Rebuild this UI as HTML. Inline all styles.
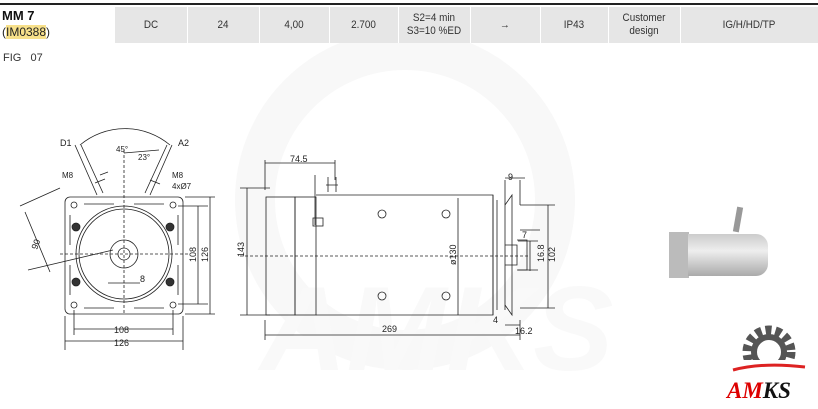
<!DOCTYPE html>
<html><head><meta charset="utf-8"><style>
body{margin:0;width:818px;height:409px;background:#fff;font-family:"Liberation Sans",Arial,sans-serif;position:relative;overflow:hidden}
.top{position:absolute;left:0;top:3px;width:818px;height:2px;background:#222}
.row{position:absolute;left:115px;top:7px;width:703px;height:36px;background:#e6e6e6}
.c{position:absolute;top:7px;height:36px;display:flex;align-items:center;justify-content:center;text-align:center;font-size:11px;color:#333;line-height:13px;transform:scaleX(.9)}
.d{position:absolute;top:7px;height:36px;width:1px;background:#fff}
</style></head><body>
<svg style="position:absolute;left:0;top:0" width="818" height="409">
<circle cx="405" cy="200" r="150" fill="none" stroke="#f8f8f8" stroke-width="40"/>
<text x="260" y="370" font-size="120" font-weight="bold" font-style="italic" fill="#f9f9f9">AMKS</text>
</svg>
<div class="top"></div>
<div class="row"></div>
<div style="position:absolute;left:2px;top:8px;font-size:13px;font-weight:bold;color:#111">MM 7</div>
<div style="position:absolute;left:2px;top:25px;font-size:12px;color:#222">(<span style="background:#f7e08a">IM0388</span>)</div>
<div style="position:absolute;left:3px;top:52px;font-size:11px;color:#333">FIG&nbsp;&nbsp;&nbsp;07</div>
<div class="d" style="left:187px"></div><div class="d" style="left:259px"></div><div class="d" style="left:329px"></div><div class="d" style="left:398px"></div><div class="d" style="left:470px"></div><div class="d" style="left:540px"></div><div class="d" style="left:608px"></div><div class="d" style="left:680px"></div>
<div class="c" style="left:115px;width:72px">DC</div>
<div class="c" style="left:187px;width:72px">24</div>
<div class="c" style="left:259px;width:70px">4,00</div>
<div class="c" style="left:329px;width:69px">2.700</div>
<div class="c" style="left:398px;width:72px">S2=4 min<br>S3=10 %ED</div>
<div class="c" style="left:470px;width:70px">→</div>
<div class="c" style="left:540px;width:68px">IP43</div>
<div class="c" style="left:608px;width:72px">Customer<br>design</div>
<div class="c" style="left:680px;width:138px">IG/H/HD/TP</div>

<svg style="position:absolute;left:0;top:0" width="818" height="409" font-family="Liberation Sans" font-size="9" fill="none" stroke="#222" stroke-width="0.8">
<rect x="65" y="197" width="118" height="117" rx="5"/>
<circle cx="124" cy="254" r="48"/>
<circle cx="124" cy="254" r="45"/>
<circle cx="124" cy="254" r="14"/>
<circle cx="124" cy="254" r="6"/>
<circle cx="74" cy="205" r="3"/><circle cx="173" cy="205" r="3"/><circle cx="74" cy="305" r="3"/><circle cx="173" cy="305" r="3"/>
<circle cx="76" cy="227" r="4" fill="#333"/><circle cx="170" cy="227" r="4" fill="#333"/><circle cx="76" cy="282" r="4" fill="#333"/><circle cx="170" cy="282" r="4" fill="#333"/>
<path d="M84 204h30M134 204h30M84 308h30M134 308h30M70 215v30M178 215v30M70 265v30M178 265v30"/>
<path d="M124 150v165M60 254h130" stroke-dasharray="3 2"/>
<path d="M97 195l-22-50M103 193l-22-48M150 195l22-50M145 193l22-48"/>
<path d="M95 183l10-4M150 180l10 4M100 175l8-3"/>
<path d="M80 145a70 70 0 0 1 90 0"/>
<path d="M124 153l35 -3"/>
<path d="M20 206l40-18M25 212l25 60M28 270l85-20"/>
<path d="M65 316v34M183 316v34M74 310v25M173 310v25M74 329h99M65 341h118"/>
<path d="M178 206h30M178 304h30M198 206v98M210 197v117M185 197h30M185 314h30"/>
<path d="M108 283h32"/>
<g fill="#222" stroke="none">
<text x="60" y="146">D1</text><text x="178" y="146">A2</text><text x="116" y="152" font-size="8">45°</text><text x="138" y="160" font-size="8">23°</text>
<text x="62" y="178" font-size="8">M8</text><text x="172" y="178" font-size="8">M8</text><text x="172" y="189" font-size="8">4xØ7</text>
<text x="140" y="282">8</text><text x="114" y="333">108</text><text x="114" y="346">126</text>
<text transform="translate(196 262) rotate(-90)">108</text><text transform="translate(208 262) rotate(-90)">126</text>
<text transform="translate(37 250) rotate(-70)">90</text>
</g>
<rect x="266" y="197" width="29" height="118"/>
<rect x="295" y="197" width="21" height="118"/>
<path d="M316 195h177v120H316"/>
<path d="M493 195v120M497 200v110M505 205v105"/>
<path d="M505 205l7-10v120l-7-10M512 195v120"/>
<path d="M505 245h12v20h-12M517 240h10v30h-10"/>
<path d="M240 256h290" stroke-dasharray="3 2"/>
<circle cx="382" cy="214" r="4"/><circle cx="446" cy="214" r="4"/><circle cx="382" cy="296" r="4"/><circle cx="446" cy="296" r="4"/>
<path d="M328 192v-15M336 192v-15M326 185h12M315 175v50"/>
<rect x="313" y="218" width="10" height="8"/>
<path d="M265 160v30M335 160v20M265 163h70M240 188h30M240 315h30M247 188v127M458 198v117M505 180v25M520 180v25M505 178h20M520 205h35M520 308h35M548 205v103M518 241h20M518 270h20M530 241v30M520 230h20M265 320v20M265 335h255M505 325h15M520 320v20"/>
<g fill="#222" stroke="none">
<text x="290" y="162">74.5</text><text x="508" y="180">9</text><text x="522" y="238">7</text>
<text transform="translate(244 257) rotate(-90)">143</text><text transform="translate(456 265) rotate(-90)">ø130</text>
<text transform="translate(544 262) rotate(-90)">16.8</text><text transform="translate(555 262) rotate(-90)">102</text>
<text x="382" y="332">269</text><text x="493" y="323">4</text><text x="515" y="334">16.2</text>
</g>
</svg>
<div style="position:absolute;left:669px;top:232px;width:20px;height:46px;background:#bbb"></div>
<div style="position:absolute;left:688px;top:234px;width:80px;height:42px;background:linear-gradient(#ccc,#eee 40%,#aaa);border-radius:0 12px 12px 0"></div>
<div style="position:absolute;left:735px;top:207px;width:6px;height:25px;background:#999;transform:rotate(10deg)"></div>
<svg style="position:absolute;left:725px;top:320px" width="88" height="89">
<circle cx="44" cy="32" r="22" fill="none" stroke="#555" stroke-width="9" stroke-dasharray="6 4"/>
<circle cx="44" cy="32" r="15" fill="none" stroke="#555" stroke-width="6"/>
<rect x="0" y="40" width="88" height="25" fill="#fff"/>
<path d="M8 50q30-8 72-3" stroke="#d22" stroke-width="3" fill="none"/>
<text x="2" y="78" font-size="23" font-weight="bold" font-style="italic" font-family="Liberation Serif" fill="#d00">AM<tspan fill="#111">KS</tspan></text>
</svg>
</body></html>
